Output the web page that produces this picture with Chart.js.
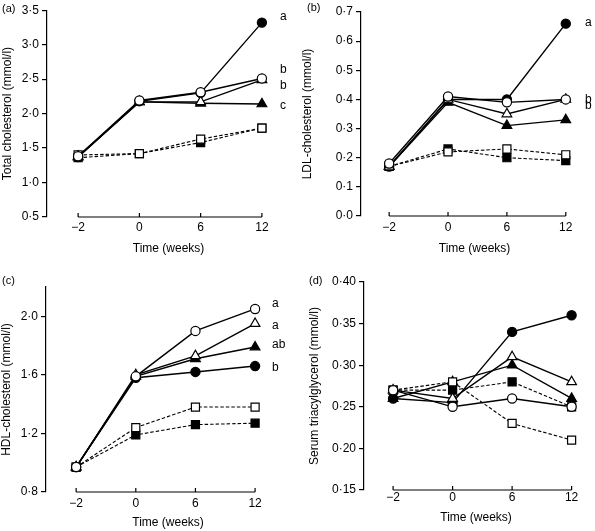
<!DOCTYPE html>
<html lang="en">
<head>
  <meta charset="utf-8">
  <title>Serum lipids over time</title>
  <script src="https://cdn.jsdelivr.net/npm/chart.js"></script>
  <style>
    body { margin: 0; background: #fff; overflow: hidden; }
    #wrap { position: relative; width: 595px; height: 531px; font-family: 'Liberation Sans', Arial, sans-serif; color: #000; }
    #wrap canvas { position: absolute; }
    .tag { position: absolute; font-size: 11px; line-height: 12px; }
  </style>
</head>
<body>
<div id="wrap">
  <canvas id="chartA" width="297" height="265" style="left:0;top:0"></canvas>
  <canvas id="chartB" width="298" height="265" style="left:297px;top:0"></canvas>
  <canvas id="chartC" width="297" height="266" style="left:0;top:265px"></canvas>
  <canvas id="chartD" width="298" height="266" style="left:297px;top:265px"></canvas>
  <div class="tag" style="left:2px;top:2px">(a)</div>
  <div class="tag" style="left:307px;top:1px">(b)</div>
  <div class="tag" style="left:2px;top:274px">(c)</div>
  <div class="tag" style="left:309px;top:274px">(d)</div>
</div>
<script>
// x categories (weeks)
const weeks = ['\u22122', '0', '6', '12'];

// (a) total cholesterol, mmol/l
const totFilledCircle   = [1.37, 2.18, 2.30, 3.32];
const totOpenCircle     = [1.38, 2.19, 2.31, 2.51];
const totFilledTriangle = [1.37, 2.17, 2.15, 2.14];
const totOpenTriangle   = [1.38, 2.17, 2.17, 2.49];
const totFilledSquare   = [1.36, 1.42, 1.58, 1.79];
const totOpenSquare     = [1.40, 1.42, 1.63, 1.79];
const totTicks = [0.5, 1.0, 1.5, 2.0, 2.5, 3.0, 3.5];
const totLetters = [['a', 3.41], ['b', 2.63], ['b', 2.40], ['c', 2.12]];

// (b) LDL-cholesterol
const ldlFilledCircle   = [0.17, 0.40, 0.40, 0.66];
const ldlOpenCircle     = [0.18, 0.41, 0.39, 0.40];
const ldlFilledTriangle = [0.17, 0.39, 0.31, 0.33];
const ldlOpenTriangle   = [0.17, 0.40, 0.35, 0.40];
const ldlFilledSquare   = [0.17, 0.23, 0.20, 0.19];
const ldlOpenSquare     = [0.17, 0.22, 0.23, 0.21];
const ldlTicks = [0.0, 0.1, 0.2, 0.3, 0.4, 0.5, 0.6, 0.7];
const ldlLetters = [['a', 0.662], ['b', 0.398], ['b', 0.377]];

// (c) HDL-cholesterol
const hdlFilledCircle   = [0.97, 1.58, 1.62, 1.66];
const hdlOpenCircle     = [0.97, 1.59, 1.90, 2.05];
const hdlFilledTriangle = [0.97, 1.59, 1.71, 1.79];
const hdlOpenTriangle   = [0.97, 1.60, 1.73, 1.95];
const hdlFilledSquare   = [0.97, 1.19, 1.26, 1.27];
const hdlOpenSquare     = [0.97, 1.24, 1.38, 1.38];
const hdlTicks = [0.8, 1.2, 1.6, 2.0];
const hdlLetters = [['a', 2.084], ['a', 1.934], ['ab', 1.804], ['b', 1.647]];

// (d) serum triacylglycerol
const tagFilledCircle   = [0.26, 0.255, 0.34, 0.36];
const tagOpenCircle     = [0.27, 0.25, 0.26, 0.25];
const tagFilledTriangle = [0.26, 0.28, 0.30, 0.26];
const tagOpenTriangle   = [0.27, 0.26, 0.31, 0.28];
const tagFilledSquare   = [0.27, 0.27, 0.28, 0.25];
const tagOpenSquare     = [0.27, 0.28, 0.23, 0.21];
const tagTicks = [0.15, 0.20, 0.25, 0.30, 0.35, 0.40];

const FONT = "'Liberation Sans', Arial, sans-serif";

// marker looks, first one ends up on top
const looks = [
  {style: 'circle',   r: 4.6, fill: '#fff', dash: []},
  {style: 'triangle', r: 5.6, fill: '#fff', dash: []},
  {style: 'rect',     r: 5.7, fill: '#fff', dash: [3.5, 2]},
  {style: 'circle',   r: 4.6, fill: '#000', dash: []},
  {style: 'triangle', r: 5.6, fill: '#000', dash: []},
  {style: 'rect',     r: 5.7, fill: '#000', dash: [3.5, 2]}
];

const extras = {
  id: 'extras',
  beforeDatasetsDraw(chart) {
    const {ctx, chartArea, scales: {x}} = chart;
    const yb = chartArea.bottom;
    ctx.save();
    ctx.strokeStyle = '#000';
    ctx.lineWidth = 1.2;
    ctx.beginPath();
    ctx.moveTo(x.getPixelForValue(0), yb);
    ctx.lineTo(x.getPixelForValue(weeks.length - 1), yb);
    weeks.forEach((w, i) => {
      const px = x.getPixelForValue(i);
      ctx.moveTo(px, yb);
      ctx.lineTo(px, yb - 4);
    });
    ctx.stroke();
    ctx.restore();
  },
  afterDatasetsDraw(chart, args, opts) {
    if (!opts.letters) return;
    const {ctx, scales: {y}} = chart;
    ctx.save();
    ctx.font = '12px ' + FONT;
    ctx.fillStyle = '#000';
    ctx.textAlign = 'left';
    ctx.textBaseline = 'middle';
    opts.letters.forEach(([t, v]) => ctx.fillText(t, opts.letterX, y.getPixelForValue(v)));
    ctx.restore();
  }
};

function fmt(decimals) {
  return v => v.toFixed(decimals).replace('.', '\u00b7');
}

// g: page-space geometry of one panel
function panel(id, g, series, ticks, yMax, decimals, title, letters) {
  const W = g.L - (g.titleX - 7.2);
  const H = g.xTitleY + 7.2 - g.B;
  const s = (g.x12 - g.xm2) / (weeks.length - 1);
  const R = g.bx + g.bw;
  new Chart(document.getElementById(id), {
    type: 'line',
    data: {
      datasets: series.map((vals, k) => ({
        data: vals.map((v, i) => ({x: i, y: v})),
        borderColor: '#000',
        borderWidth: looks[k].dash.length ? 1.1 : 1.4,
        borderDash: looks[k].dash,
        pointStyle: looks[k].style,
        pointRadius: looks[k].r,
        pointBackgroundColor: looks[k].fill,
        pointBorderColor: '#000',
        pointBorderWidth: 1.2,
        tension: 0,
        clip: false
      }))
    },
    options: {
      responsive: false,
      animation: false,
      devicePixelRatio: 1,
      events: [],
      layout: {padding: {
        left: g.titleX - 7.2 - g.bx,
        top: g.T - g.by,
        right: 0,
        bottom: g.by + g.bh - (g.B + H)
      }},
      plugins: {
        legend: {display: false},
        tooltip: {enabled: false},
        extras: {letters: letters, letterX: g.letterX - g.bx}
      },
      scales: {
        x: {
          type: 'linear',
          min: -(g.xm2 - g.L) / s,
          max: weeks.length - 1 + (R - g.x12) / s,
          afterBuildTicks: sc => { sc.ticks = weeks.map((w, i) => ({value: i})); },
          afterFit: sc => { sc.height = H; },
          grid: {display: false, drawTicks: false},
          border: {display: false},
          ticks: {
            padding: g.xPad,
            color: '#000',
            font: {family: FONT, size: 12},
            maxRotation: 0,
            callback: v => weeks[v]
          },
          title: {display: true, text: 'Time (weeks)', color: '#000', padding: 0, font: {family: FONT, size: 12}}
        },
        y: {
          min: ticks[0],
          max: yMax,
          afterBuildTicks: sc => { sc.ticks = ticks.map(v => ({value: v})); },
          afterFit: sc => { sc.width = W; },
          grid: {drawOnChartArea: false, tickLength: 5, color: '#000', lineWidth: 1.2},
          border: {display: true, color: '#000', width: 1.2},
          ticks: {padding: 3, color: '#000', font: {family: FONT, size: 12}, callback: fmt(decimals)},
          title: {display: true, text: title, color: '#000', padding: 0, font: {family: FONT, size: 12}}
        }
      }
    },
    plugins: [extras]
  });
}

panel('chartA',
  {bx: 0, by: 0, bw: 297, bh: 265, L: 47, T: 9, B: 217, xm2: 79, x12: 268, titleX: 8, xTitleY: 249, xPad: 3, letterX: 280},
  [totOpenCircle, totOpenTriangle, totOpenSquare, totFilledCircle, totFilledTriangle, totFilledSquare],
  totTicks, 3.5, 1, 'Total cholesterol (mmol/l)', totLetters);

panel('chartB',
  {bx: 297, by: 0, bw: 298, bh: 265, L: 361, T: 12, B: 216, xm2: 390, x12: 572, titleX: 308, xTitleY: 249, xPad: 4, letterX: 585},
  [ldlOpenCircle, ldlOpenTriangle, ldlOpenSquare, ldlFilledCircle, ldlFilledTriangle, ldlFilledSquare],
  ldlTicks, 0.7, 1, 'LDL-cholesterol (mmol/l)', ldlLetters);

panel('chartC',
  {bx: 0, by: 265, bw: 297, bh: 266, L: 46, T: 287, B: 492, xm2: 77, x12: 261, titleX: 7, xTitleY: 523, xPad: 4, letterX: 272},
  [hdlOpenCircle, hdlOpenTriangle, hdlOpenSquare, hdlFilledCircle, hdlFilledTriangle, hdlFilledSquare],
  hdlTicks, 2.2, 1, 'HDL-cholesterol (mmol/l)', hdlLetters);

panel('chartD',
  {bx: 297, by: 265, bw: 298, bh: 266, L: 364, T: 282, B: 490, xm2: 394, x12: 578, titleX: 315, xTitleY: 518, xPad: 0, letterX: 0},
  [tagOpenCircle, tagOpenTriangle, tagOpenSquare, tagFilledCircle, tagFilledTriangle, tagFilledSquare],
  tagTicks, 0.40, 2, 'Serum triacylglycerol (mmol/l)', null);
</script>
</body>
</html>
